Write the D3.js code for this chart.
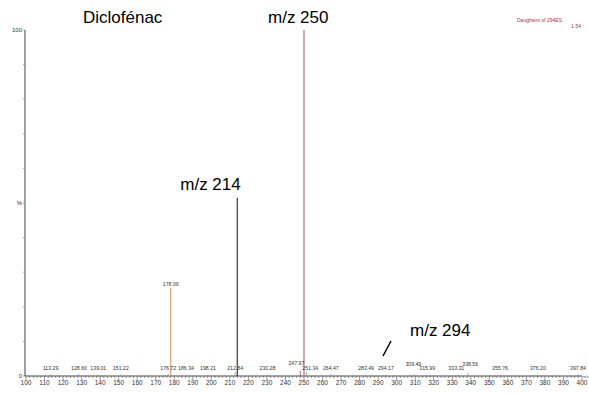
<!DOCTYPE html>
<html>
<head>
<meta charset="utf-8">
<script src="https://cdn.jsdelivr.net/npm/d3@7"></script>
<style>
  body { margin: 0; background: #fff; }
  text { font-family: Arial, "Liberation Sans", sans-serif; }
</style>
</head>
<body>
<div id="chart"></div>
<script>
// peaks (m/z, relative intensity %)
const peakMz = [113.29, 128.60, 139.01, 151.22, 176.72, 178.09, 186.34, 198.21, 212.84, 214.0, 230.28, 247.97, 250.0, 251.34, 264.47, 283.49, 294.17, 309.49, 315.99, 333.31, 338.56, 355.76, 376.20, 397.84];
const peakInt = [0.5, 0.5, 0.5, 0.5, 0.6, 25.5, 0.4, 0.4, 1.2, 51.5, 0.4, 1.5, 100, 1.2, 0.6, 0.4, 0.5, 0.6, 0.4, 0.4, 0.8, 0.4, 0.4, 0.4];
const peakColor = ["#999", "#999", "#999", "#999", "#999", "#d4a06a", "#999", "#999", "#999", "#5a2828", "#999", "#a44", "#a07878", "#999", "#999", "#999", "#999", "#999", "#999", "#999", "#999", "#999", "#999", "#999"];
const peakLabel = ["113.29", "128.60", "139.01", "151.22", "176.72", "178.09", "186.34", "198.21", "212.84", "", "230.28", "247.97", "", "251.34", "264.47", "283.49", "294.17", "309.49", "315.99", "333.31", "338.56", "355.76", "376.20", "397.84"];
const xTicks = d3.range(100, 401, 10);
const yTicks = [0, 50, 100];
const yTickLabels = ["0", "%", "100"];

const w = 589, h = 394;
const svg = d3.select("#chart").append("svg").attr("width", w).attr("height", h);

const x = d3.scaleLinear().domain([100, 400]).range([26, 582]);
const y = d3.scaleLinear().domain([0, 100]).range([376, 30]);

// y axis
svg.append("line").attr("x1", x(100) - 1).attr("x2", x(100) - 1)
  .attr("y1", y(100)).attr("y2", y(0)).attr("stroke", "#444").attr("stroke-width", 1);
svg.selectAll("line.ymin").data(d3.range(0, 101, 10)).enter().append("line")
  .attr("x1", x(100) - 3).attr("x2", x(100) - 1)
  .attr("y1", d => y(d)).attr("y2", d => y(d))
  .attr("stroke", "#777").attr("stroke-width", 0.6);
svg.selectAll("text.ylab").data(yTicks).enter().append("text")
  .attr("x", x(100) - 4).attr("y", d => y(d) + 2)
  .attr("text-anchor", "end").attr("font-size", 6).attr("fill", "#333")
  .text((d, i) => yTickLabels[i]);

// x axis
svg.append("line").attr("x1", x(100) - 1).attr("x2", x(400))
  .attr("y1", y(0)).attr("y2", y(0)).attr("stroke", "#444").attr("stroke-width", 1);
svg.selectAll("line.xmin").data(d3.range(100, 401, 2)).enter().append("line")
  .attr("x1", d => x(d)).attr("x2", d => x(d))
  .attr("y1", y(0)).attr("y2", d => y(0) + (d % 10 === 0 ? 4 : 2))
  .attr("stroke", "#555").attr("stroke-width", 0.6);
svg.selectAll("text.xlab").data(xTicks).enter().append("text")
  .attr("x", d => x(d)).attr("y", y(0) + 9)
  .attr("text-anchor", "middle").attr("font-size", 6.5).attr("fill", "#333")
  .text(d => d);
svg.append("text").attr("x", 583).attr("y", y(0) + 2)
  .attr("font-size", 3.5).attr("fill", "#555").text("m/z");

// peaks
const peaks = peakMz.map((m, i) => ({ m, v: peakInt[i], c: peakColor[i], l: peakLabel[i] }));
svg.selectAll("line.peak").data(peaks).enter().append("line")
  .attr("x1", d => x(d.m)).attr("x2", d => x(d.m))
  .attr("y1", y(0)).attr("y2", d => y(d.v))
  .attr("stroke", d => d.c).attr("stroke-width", d => d.v > 10 ? 1.2 : 0.8);

// peak labels, small ones pushed apart / staggered so they don't collide
const labs = svg.selectAll("text.plab").data(peaks.filter(d => d.l)).enter().append("text")
  .attr("class", "plab")
  .attr("text-anchor", "middle").attr("font-size", 5.2).attr("fill", "#333")
  .text(d => d.l);
labs.each(function (d) { d.w = this.getComputedTextLength(); d.lx = x(d.m); d.ly = Math.min(y(d.v) - 2, 370); });
const small = labs.data().filter(d => d.v < 10);
for (let i = 1; i < small.length; i++) {
  const a = small[i - 1], b = small[i];
  if (b.lx - a.lx < (a.w + b.w) / 2 + 1) {
    // raise the taller peak's label a bit and spread both sideways
    if (b.v >= a.v) b.ly -= 4; else a.ly -= 4;
    const gap = (a.w + b.w) / 2 - 2 - (b.lx - a.lx);
    if (gap > 0) { a.lx -= gap / 2; b.lx += gap / 2; }
  }
}
labs.attr("x", d => d.lx).attr("y", d => d.ly);

// annotations
svg.append("text").attr("x", 83).attr("y", 23).attr("font-size", 17).attr("fill", "#000").text("Diclofénac");
svg.append("text").attr("x", x(250) - 36).attr("y", 23).attr("font-size", 17).attr("fill", "#000").text("m/z 250");
svg.append("text").attr("x", x(214) - 57).attr("y", 190).attr("font-size", 17).attr("fill", "#000").text("m/z 214");
svg.append("text").attr("x", 410).attr("y", 336).attr("font-size", 17).attr("fill", "#000").text("m/z 294");
svg.append("line").attr("x1", 383).attr("y1", 356).attr("x2", 391).attr("y2", 341)
  .attr("stroke", "#000").attr("stroke-width", 1.5);
svg.append("text").attr("x", 517).attr("y", 22).attr("font-size", 5).attr("fill", "#b03030").text("Daughters of 294ES");
svg.append("text").attr("x", 581).attr("y", 28).attr("font-size", 5).attr("text-anchor", "end").attr("fill", "#b03030").text("1:54");
</script>
</body>
</html>
